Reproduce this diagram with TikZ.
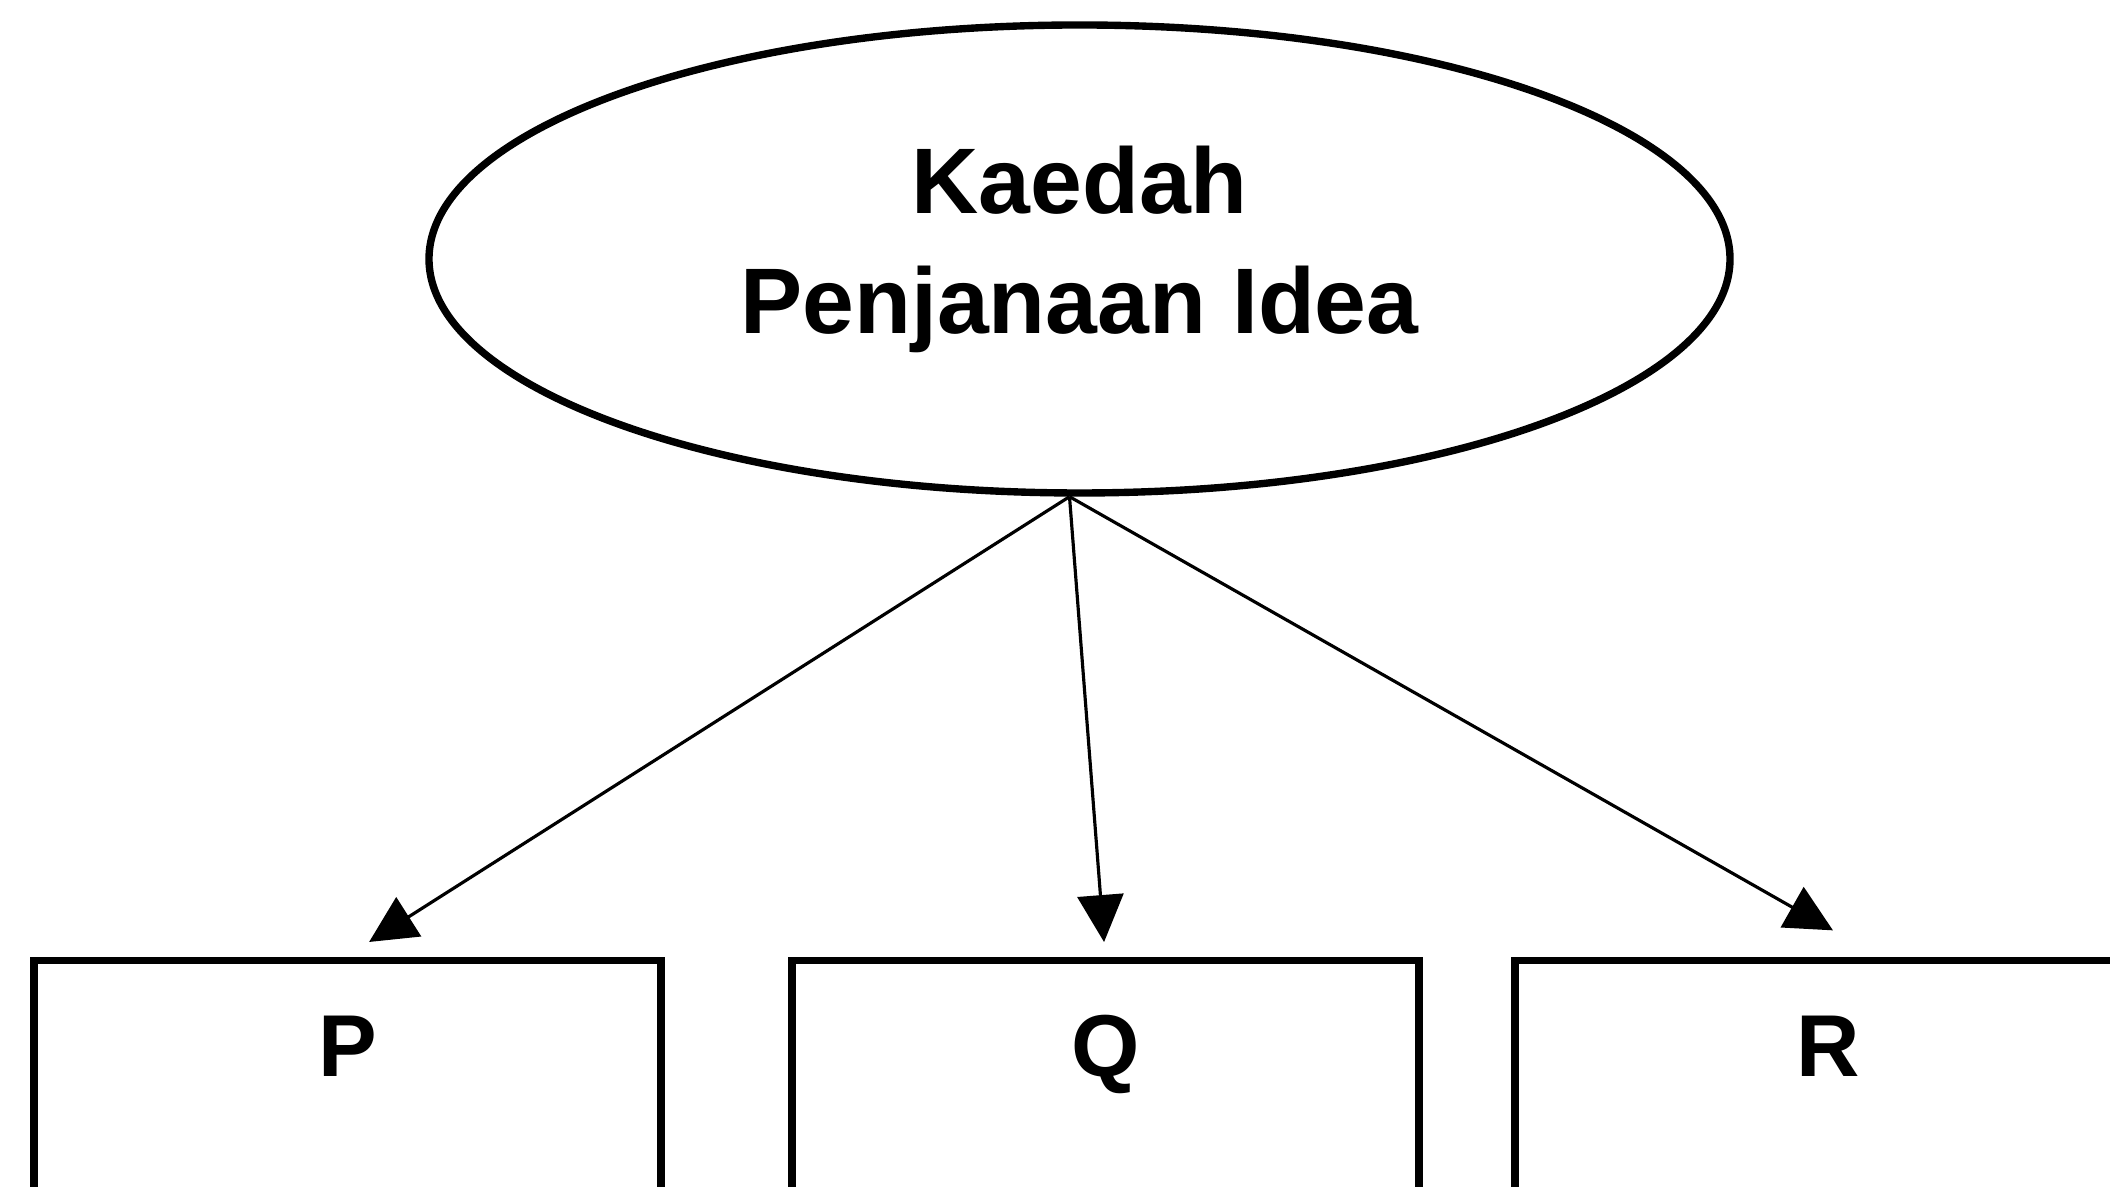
\documentclass[tikz,border=0pt]{standalone}
\usepackage{fontspec}
\setmainfont{Liberation Sans}
\usetikzlibrary{arrows.meta,calc,positioning,shapes.geometric}

\begin{document}
\begin{tikzpicture}[
node distance= 2cm and 2cm,
method/.style = {ellipse, draw, line width=4.2pt,
                minimum width=26.02cm, minimum height=9.36cm,
                inner sep=0pt, align=center, text depth=21.8pt,
                font=\fontsize{53}{68}\selectfont\bfseries},
box/.style = {draw, line width=4.2pt, minimum width=12.54cm,
                inner ysep=0pt, outer sep=0pt,
                text height=2.33cm, text depth=5.67cm,
                font=\fontsize{50}{60}\selectfont\bfseries},
Arrow/.style = {line width=1.8pt,
                -{Triangle[length=9.4mm,width=9.2mm]}},
                    ]
\useasboundingbox (0,0) rectangle (42.2,23.74);
\node[method]   (idea) at (21.59,18.56) {Kaedah\\Penjanaan Idea};

\node[box, anchor=north west]   (p) at (0.68,4.53) {P};
\node[box, right=2.62cm of p]   (q) {Q};
\node[box, right=1.92cm of q]   (r) {R};

\coordinate (src) at ([xshift=-0.2cm]idea.south);
\draw[Arrow, shorten >=0.69cm]  (src) -- ([xshift=-0.15cm]p.north);
\draw[Arrow, shorten >=0.37cm]  (src) -- (q.north);
\draw[Arrow, shorten >=1.22cm]  (src) -- ([xshift=1.15cm]r.north);
\end{tikzpicture}
\end{document}
